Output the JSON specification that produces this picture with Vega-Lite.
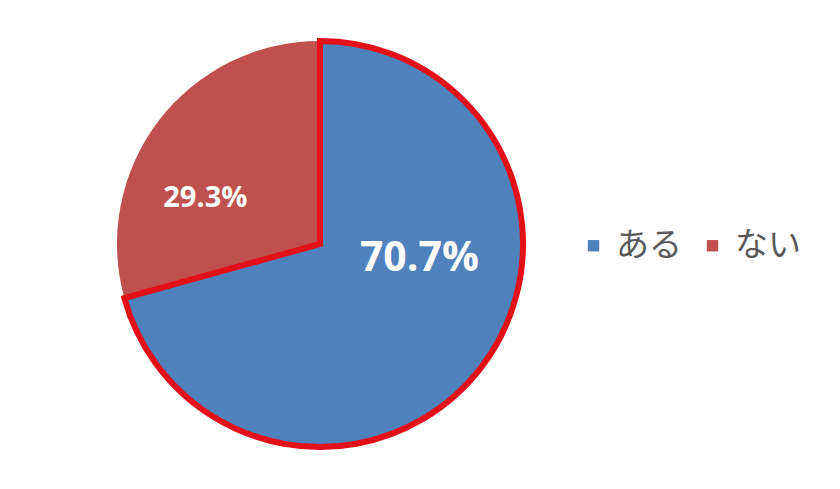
{
  "$schema": "https://vega.github.io/schema/vega-lite/v6.json",
  "width": 640,
  "height": 494,
  "padding": {"left": 0, "top": -3, "right": 200, "bottom": -2},
  "autosize": "none",
  "background": "white",
  "view": {"stroke": null},
  "data": {
    "values": [
      {"cat": "ある", "value": 70.7, "label": "70.7%"},
      {"cat": "ない", "value": 29.3, "label": "29.3%"}
    ]
  },
  "encoding": {
    "theta": {"field": "value", "type": "quantitative", "stack": true},
    "order": {"field": "cat", "sort": "ascending"}
  },
  "layer": [
    {
      "mark": {"type": "arc", "strokeWidth": 0},
      "encoding": {
        "radius": {"condition": {"test": "datum.cat === 'ある'", "value": 207}, "value": 203},
        "color": {
          "field": "cat",
          "type": "nominal",
          "scale": {"domain": ["ある", "ない"], "range": ["#4f81bd", "#c0504d"]},
          "legend": {
            "title": null,
            "orient": "none",
            "legendX": 577,
            "legendY": 232,
            "direction": "horizontal",
            "symbolType": "square",
            "symbolSize": 130,
            "symbolStrokeWidth": 0,
            "labelFont": "Noto Sans CJK JP",
            "labelFontSize": 33,
            "labelColor": "#595959",
            "labelLimit": 200,
            "columnPadding": 14,
            "labelOffset": 6
          }
        }
      }
    },
    {
      "mark": {"type": "arc", "fillOpacity": 0, "stroke": "#e3101a", "strokeWidth": 6, "strokeJoin": "miter"},
      "encoding": {
        "radius": {"condition": {"test": "datum.cat === 'ある'", "value": 207}, "value": 203},
        "strokeOpacity": {"condition": {"test": "datum.cat === 'ある'", "value": 1}, "value": 0}
      }
    },
    {
      "mark": {"type": "text", "font": "Open Sans", "fontWeight": "bold", "fill": "white", "fontSize": 29, "dx": -16, "dy": 29},
      "encoding": {
        "radius": {"value": 124},
        "text": {"condition": {"test": "datum.cat === 'ない'", "field": "label"}, "value": ""}
      }
    },
    {
      "mark": {"type": "text", "font": "Open Sans", "fontWeight": "bold", "fill": "white", "fontSize": 41, "dx": 19, "dy": -46},
      "encoding": {
        "radius": {"value": 101},
        "text": {"condition": {"test": "datum.cat === 'ある'", "field": "label"}, "value": ""}
      }
    }
  ]
}
